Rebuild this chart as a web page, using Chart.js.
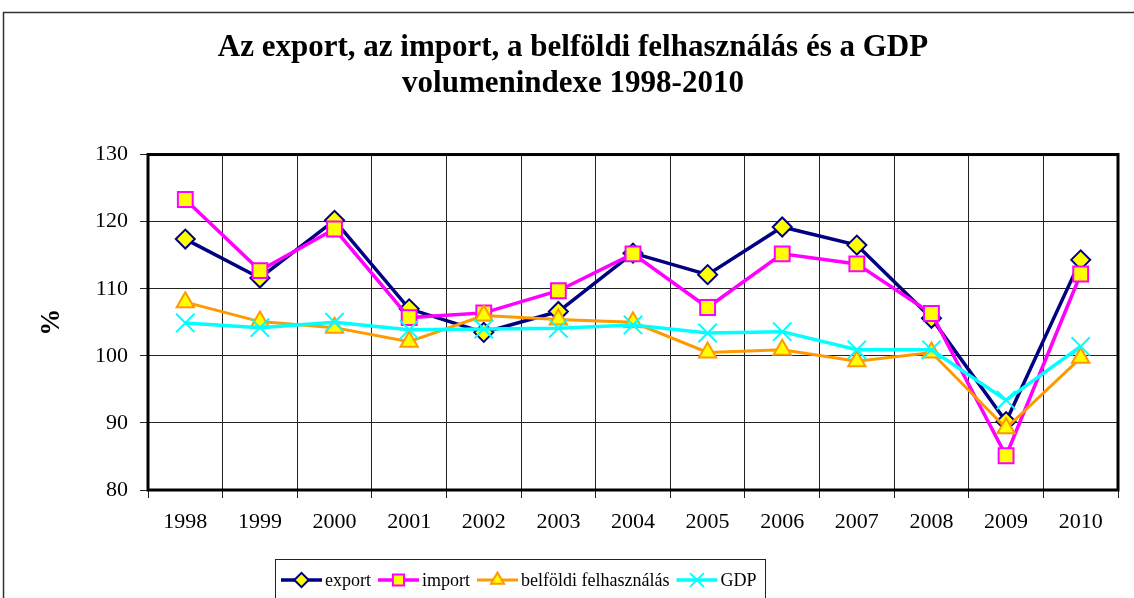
<!DOCTYPE html>
<html lang="hu">
<head>
<meta charset="UTF-8">
<title>Volumenindex 1998-2010</title>
<script src="https://cdn.jsdelivr.net/npm/chart.js"></script>
<style>
  body { margin: 0; background: #fff; }
  #wrap { width: 1134px; height: 598px; }
</style>
</head>
<body>
<div id="wrap"><canvas id="volChart"></canvas></div>
<script>
// data
const years = ['1998', '1999', '2000', '2001', '2002', '2003', '2004', '2005', '2006', '2007', '2008', '2009', '2010'];
const exportVals = [117.4, 111.6, 120.2, 107.0, 103.5, 106.6, 115.3, 112.1, 119.2, 116.5, 105.6, 90.2, 114.3];
const importVals = [123.3, 112.7, 118.9, 105.7, 106.4, 109.7, 115.2, 107.2, 115.2, 113.7, 106.3, 85.1, 112.2];
const belfoldiVals = [108.0, 105.1, 104.2, 102.1, 106.0, 105.4, 105.0, 100.5, 100.9, 99.2, 100.5, 89.2, 99.7];
const gdpVals = [104.9, 104.2, 105.0, 103.9, 104.0, 104.1, 104.6, 103.4, 103.6, 100.9, 100.9, 93.4, 101.4];
const seriesNames = ['export', 'import', 'belföldi felhasználás', 'GDP'];
const titleLines = ['Az export, az import, a belföldi felhasználás és a GDP', 'volumenindexe 1998-2010'];

const serif = '"Liberation Serif", "Times New Roman", serif';

// page frame, plot frame and the legend box
const framePlugin = {
    id: 'framePlugin',
    beforeDraw(chart) {
        const ctx = chart.ctx;
        ctx.save();
        ctx.fillStyle = '#fff';
        ctx.fillRect(0, 0, chart.width, chart.height);
        ctx.strokeStyle = '#333';
        ctx.lineWidth = 1.5;
        ctx.beginPath();
        ctx.moveTo(3.5, chart.height + 5);
        ctx.lineTo(3.5, 12.5);
        ctx.lineTo(chart.width + 5, 12.5);
        ctx.stroke();
        ctx.restore();
    },
    beforeDatasetsDraw(chart) {
        const ctx = chart.ctx;
        const a = chart.chartArea;
        ctx.save();
        ctx.strokeStyle = '#000';
        ctx.lineWidth = 3;
        ctx.strokeRect(a.left, a.top, a.right - a.left, a.bottom - a.top);
        ctx.restore();
    },
    afterDraw(chart) {
        const ctx = chart.ctx;
        ctx.save();
        ctx.strokeStyle = '#222';
        ctx.lineWidth = 1;
        ctx.strokeRect(275.5, 559.5, 490, 60);
        ctx.font = '18px ' + serif;
        ctx.textBaseline = 'middle';
        let x = 281;
        const y = 580;
        chart.data.datasets.forEach(ds => {
            ctx.strokeStyle = ds.borderColor;
            ctx.lineWidth = ds.borderWidth;
            ctx.beginPath();
            ctx.moveTo(x, y);
            ctx.lineTo(x + 41, y);
            ctx.stroke();
            ctx.fillStyle = ds.pointBackgroundColor;
            ctx.strokeStyle = ds.pointBorderColor;
            ctx.lineWidth = ds.pointBorderWidth;
            Chart.helpers.drawPoint(ctx, {
                pointStyle: ds.pointStyle,
                radius: ds.pointRadius * 0.75,
                borderWidth: ds.pointBorderWidth,
                rotation: 0
            }, x + 20.5, y);
            ctx.fillStyle = '#000';
            ctx.fillText(ds.label, x + 44, y + 1);
            x += 44 + ctx.measureText(ds.label).width + 7;
        });
        ctx.restore();
    }
};

new Chart(document.getElementById('volChart'), {
    type: 'line',
    data: {
        labels: years,
        datasets: [
            {
                label: seriesNames[0], data: exportVals,
                borderColor: '#000080', borderWidth: 3.5,
                pointStyle: 'rectRot', pointRadius: 9.5,
                pointBackgroundColor: '#ffff00', pointBorderColor: '#000080', pointBorderWidth: 2,
                tension: 0, order: 4
            },
            {
                label: seriesNames[1], data: importVals,
                borderColor: '#ff00ff', borderWidth: 3.5,
                pointStyle: 'rect', pointRadius: 10.5,
                pointBackgroundColor: '#ffff00', pointBorderColor: '#ff00ff', pointBorderWidth: 2,
                tension: 0, order: 3
            },
            {
                label: seriesNames[2], data: belfoldiVals,
                borderColor: '#ff9900', borderWidth: 3,
                pointStyle: 'triangle', pointRadius: 10,
                pointBackgroundColor: '#ffff00', pointBorderColor: '#ff9900', pointBorderWidth: 2,
                tension: 0, order: 2
            },
            {
                label: seriesNames[3], data: gdpVals,
                borderColor: '#00ffff', borderWidth: 3.5,
                pointStyle: 'crossRot', pointRadius: 13,
                pointBackgroundColor: '#00ffff', pointBorderColor: '#00ffff', pointBorderWidth: 2,
                tension: 0, order: 1
            }
        ]
    },
    options: {
        animation: false,
        responsive: true,
        maintainAspectRatio: false,
        layout: { padding: { left: 28, right: 16, top: 0, bottom: 58 } },
        scales: {
            x: {
                offset: true,
                grid: { offset: true, color: '#222', lineWidth: 1, tickLength: 8 },
                border: { display: false },
                ticks: { color: '#000', font: { family: serif, size: 22 }, padding: 11, maxRotation: 0 },
                afterFit(scale) { scale.height = 50; }
            },
            y: {
                min: 80, max: 130,
                grid: { color: '#222', lineWidth: 1, tickLength: 8 },
                border: { display: false },
                ticks: { stepSize: 10, color: '#000', font: { family: serif, size: 22 }, padding: 12 },
                title: {
                    display: true, text: '%', color: '#000',
                    font: { family: serif, size: 27, weight: 'bold' },
                    padding: { top: 8, bottom: 0 }
                },
                afterFit(scale) { scale.width = 120; }
            }
        },
        plugins: {
            legend: { display: false },
            tooltip: { enabled: false },
            title: {
                display: true,
                text: titleLines,
                color: '#000',
                font: { family: serif, size: 31, weight: 'bold', lineHeight: 1.17 },
                padding: { top: 30, bottom: 52 }
            }
        }
    },
    plugins: [framePlugin]
});
</script>
</body>
</html>
